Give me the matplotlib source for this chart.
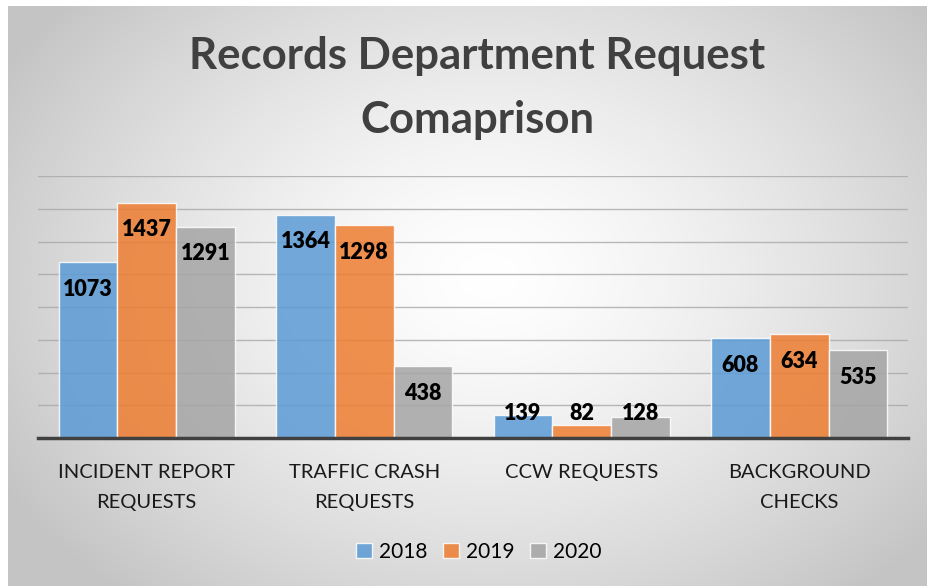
import numpy as np
import matplotlib
matplotlib.use("Agg")
import matplotlib.pyplot as plt
from matplotlib.patches import Patch

# Data
categories = ["INCIDENT REPORT\nREQUESTS", "TRAFFIC CRASH\nREQUESTS", "CCW REQUESTS", "BACKGROUND\nCHECKS"]
years = ["2018", "2019", "2020"]
v2018 = [1073, 1364, 139, 608]
v2019 = [1437, 1298, 82, 634]
v2020 = [1291, 438, 128, 535]
colors = ["#5B9BD5", "#ED7D31", "#A5A5A5"]

plt.rcParams['font.family'] = ['Lato', 'DejaVu Sans']

W, H = 927, 586
fig = plt.figure(figsize=(W / 100, H / 100), dpi=100, facecolor='white')

# radial gradient panel
bg = fig.add_axes([8 / W, 0, (W - 8) / W, (H - 6) / H])
yy, xx = np.mgrid[0:580, 0:919]
r = np.sqrt(((xx - 480) / 560.0) ** 2 + ((yy - 270) / 420.0) ** 2)
shade = 1.0 - 0.23 * np.clip(r, 0, 1) ** 1.4
bg.imshow(np.dstack([shade] * 3), aspect='auto', interpolation='bilinear')
bg.axis('off')

# plot area
x0, x1 = 38, 908
ytop, ybot = 176, 438
ax = fig.add_axes([x0 / W, 1 - ybot / H, (x1 - x0) / W, (ybot - ytop) / H])
ax.patch.set_alpha(0)

x = np.arange(len(categories))
w = 0.27
series = [v2018, v2019, v2020]
for i, (vals, c, lab) in enumerate(zip(series, colors, years)):
    bars = ax.bar(x + (i - 1) * w, vals, w, color=c, alpha=0.85,
                  edgecolor='white', linewidth=1.0, zorder=3, label=lab)
    for xi, v in zip(x + (i - 1) * w, vals):
        ax.text(xi, max(v - 165, 150), str(v), ha='center', va='center',
                fontsize=15.5, fontweight='heavy', color='black', zorder=5)

ax.set_xlim(-0.5, 3.5)
ax.set_ylim(0, 1600)
ax.set_yticks(np.arange(200, 1601, 200))
ax.yaxis.grid(True, color='#A8A8A8', linewidth=1.0, zorder=4, alpha=0.8)
ax.tick_params(axis='y', left=False, labelleft=False)
ax.tick_params(axis='x', bottom=False)
for s in ['top', 'right', 'left']:
    ax.spines[s].set_visible(False)
ax.spines['bottom'].set_color('#404040')
ax.spines['bottom'].set_linewidth(2.5)
ax.spines['bottom'].set_zorder(6)
ax.set_xticks(x)
ax.set_xticklabels(categories, fontsize=14.5, color='#1a1a1a', linespacing=1.95)
ax.tick_params(axis='x', pad=15)

fig.text(0.515, 1 - 88 / H, "Records Department Request\nComaprison", ha='center', va='center',
         fontsize=31.5, fontweight='bold', color='#404040', linespacing=1.7)

handles = [Patch(facecolor=c, edgecolor='white', alpha=0.85) for c in colors]
fig.legend(handles, years, loc='center', bbox_to_anchor=(479 / W, 1 - 552 / H), ncol=3,
           frameon=False, fontsize=15, handlelength=0.75, handleheight=0.75,
           handletextpad=0.35, columnspacing=0.75)

fig.savefig("out.png", dpi=100, facecolor='white')
